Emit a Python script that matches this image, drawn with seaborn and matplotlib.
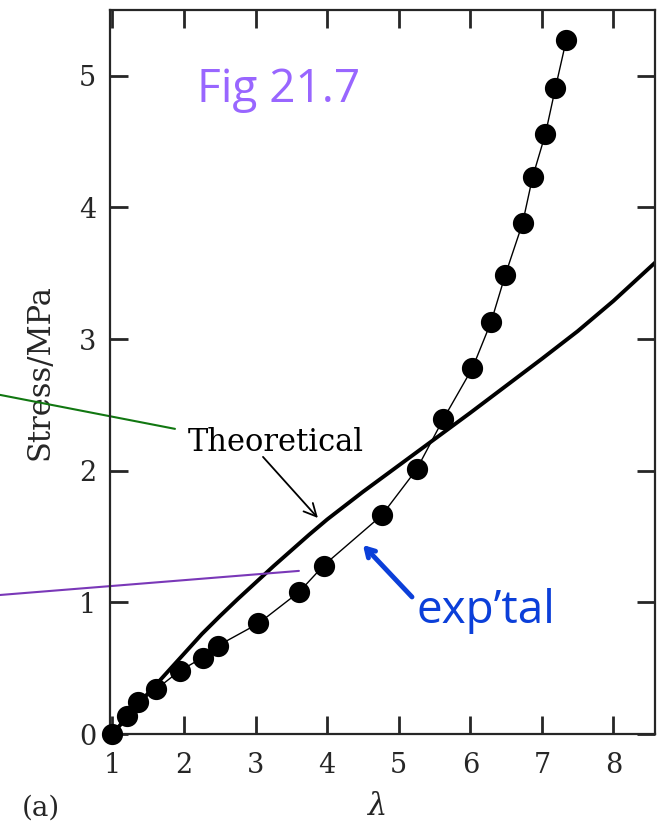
import matplotlib
matplotlib.use("Agg")
import matplotlib.pyplot as plt
import seaborn as sns
import pandas as pd

# ---- data ----
lam_exp = [1.00, 1.20, 1.35, 1.61, 1.94, 2.26, 2.47, 3.04, 3.61, 3.95,
           4.76, 5.25, 5.62, 6.03, 6.29, 6.49, 6.73, 6.87, 7.05, 7.19, 7.34]
stress_exp = [0.00, 0.14, 0.24, 0.34, 0.48, 0.58, 0.67, 0.84, 1.08, 1.28,
              1.66, 2.01, 2.39, 2.78, 3.13, 3.49, 3.88, 4.23, 4.56, 4.91, 5.27]

lam_theory = [1.0, 1.3, 1.6, 1.8, 2.0, 2.25, 2.5, 2.75, 3.0, 3.25, 3.5, 3.75,
              4.0, 4.5, 5.0, 5.5, 6.0, 6.5, 7.0, 7.5, 8.0, 8.6]
stress_theory = [0.0, 0.19, 0.37, 0.49, 0.61, 0.76, 0.895, 1.025, 1.15, 1.275,
                 1.395, 1.515, 1.63, 1.84, 2.04, 2.24, 2.44, 2.645, 2.85, 3.06,
                 3.29, 3.59]

x_ticks = [1, 2, 3, 4, 5, 6, 7, 8]
y_ticks = [0, 1, 2, 3, 4, 5]

df_exp = pd.DataFrame({"lam": lam_exp, "stress": stress_exp})
df_th = pd.DataFrame({"lam": lam_theory, "stress": stress_theory})

sns.set_style("ticks")
plt.rcParams['font.family'] = ['DejaVu Serif']

fig = plt.figure(figsize=(6.57, 8.25), dpi=100)
ax = fig.add_axes([0.1674, 0.1103, 0.8295, 0.8776])

sns.lineplot(data=df_th, x="lam", y="stress", ax=ax, color="black", lw=2.8,
             sort=False, estimator=None)
sns.lineplot(data=df_exp, x="lam", y="stress", ax=ax, color="black", lw=1.0,
             sort=False, estimator=None)
sns.scatterplot(data=df_exp, x="lam", y="stress", ax=ax, color="black",
                edgecolor="black", s=200, zorder=4, clip_on=False)

ax.set_xlim(0.965, 8.58)
ax.set_ylim(0, 5.5)
ax.set_xticks(x_ticks)
ax.set_yticks(y_ticks)
ax.tick_params(direction="in", length=13, width=2, top=True, right=True,
               labelsize=19.5)
ax.tick_params(axis="y", pad=10)
ax.tick_params(axis="x", pad=13)
for sp in ax.spines.values():
    sp.set_linewidth(1.6)
    sp.set_visible(True)

ax.set_xlabel("λ", fontsize=22, fontstyle="italic", va="center")
ax.set_ylabel("Stress/MPa", fontsize=22, va="center")
ax.xaxis.set_label_coords(0.492, -0.100)
ax.yaxis.set_label_coords(-0.128, 0.5)

# annotations
ax.text(2.18, 4.80, "Fig 21.7", fontsize=33, color="#9966ff",
        family=["Open Sans", "DejaVu Sans"], ha="left", va="baseline")
ax.text(5.25, 0.843, "exp\u2019tal", fontsize=33, color="#0b3fd9",
        family=["Open Sans", "DejaVu Sans"], ha="left", va="baseline")
ax.text(2.055, 2.15, "Theoretical", fontsize=22, color="black",
        ha="left", va="baseline")

ax.annotate("", xy=(3.87, 1.641), xytext=(3.103, 2.105),
            arrowprops=dict(arrowstyle="->,head_length=0.9,head_width=0.45",
                            color="black", lw=1.3, shrinkA=0, shrinkB=0))
ax.annotate("", xy=(4.50, 1.436), xytext=(5.185, 1.041),
            arrowprops=dict(arrowstyle="->,head_length=0.6,head_width=0.35",
                            color="#0b3fd9", lw=3.5, shrinkA=0, shrinkB=0))

# pointer lines coming from outside the plot
ax.plot([-0.571, 1.873], [2.576, 2.318], color="#117711", lw=1.5, clip_on=False)
ax.plot([-0.571, 3.605], [1.056, 1.239], color="#7a38b8", lw=1.5, clip_on=False)

fig.text(0.033, 0.021, "(a)", fontsize=20, ha="left", va="center")

fig.savefig("out.png", dpi=100)
